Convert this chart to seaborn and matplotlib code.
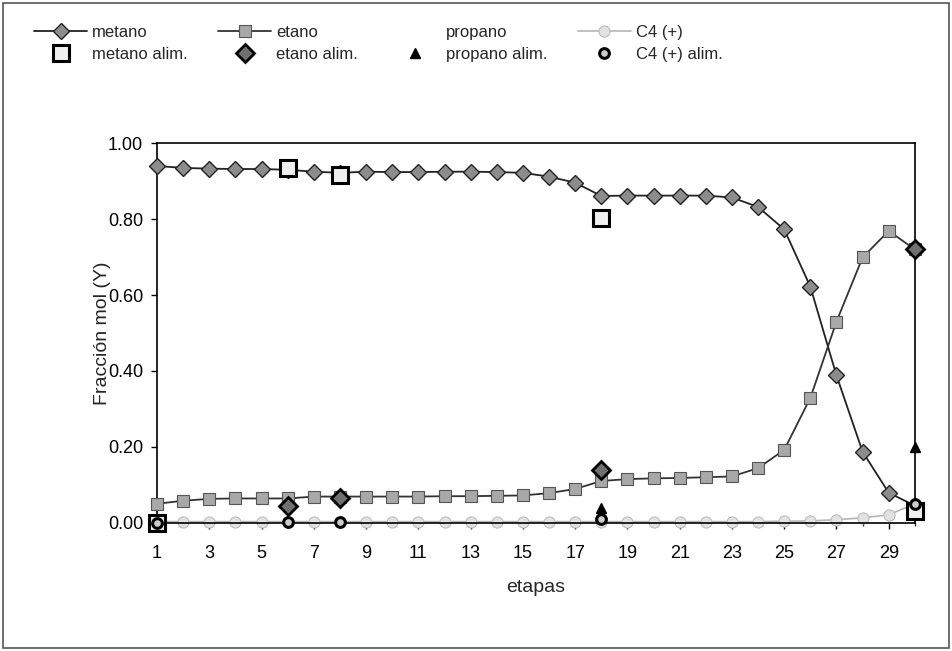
import matplotlib
matplotlib.use("Agg")
import matplotlib.pyplot as plt
import matplotlib.ticker as ticker
import seaborn as sns
from matplotlib.patches import Rectangle

sns.set_theme(style="white")
plt.rcParams['font.family'] = ['Liberation Sans', 'DejaVu Sans']

# --- datos ---
etapas = list(range(1, 31))
metano = [0.940, 0.935, 0.933, 0.932, 0.932, 0.930, 0.925, 0.922, 0.925, 0.924,
          0.924, 0.925, 0.925, 0.924, 0.922, 0.912, 0.896, 0.861, 0.862, 0.862,
          0.862, 0.862, 0.857, 0.832, 0.773, 0.622, 0.388, 0.187, 0.079, 0.045]
etano = [0.050, 0.058, 0.063, 0.064, 0.064, 0.064, 0.069, 0.069, 0.069, 0.069,
         0.069, 0.070, 0.070, 0.071, 0.072, 0.078, 0.089, 0.110, 0.115, 0.117,
         0.118, 0.120, 0.122, 0.144, 0.192, 0.329, 0.530, 0.699, 0.769, 0.720]
c4 = [0.003, 0.003, 0.003, 0.003, 0.003, 0.003, 0.003, 0.003, 0.003, 0.003,
      0.003, 0.003, 0.003, 0.003, 0.003, 0.003, 0.003, 0.003, 0.003, 0.003,
      0.003, 0.003, 0.003, 0.003, 0.004, 0.005, 0.008, 0.013, 0.021, 0.050]

metano_alim_x = [1, 6, 8, 18, 30]
metano_alim = [0.0, 0.935, 0.915, 0.804, 0.03]
etano_alim_x = [6, 8, 18, 30]
etano_alim = [0.045, 0.065, 0.14, 0.72]
propano_alim_x = [18, 30]
propano_alim = [0.04, 0.20]
c4_alim_x = [1, 6, 8, 18, 30]
c4_alim = [0.0, 0.003, 0.003, 0.01, 0.05]

fig = plt.figure(figsize=(9.52, 6.51), dpi=100)
ax = fig.add_axes([0.165, 0.197, 0.796, 0.583])

# curvas
sns.lineplot(x=etapas, y=metano, ax=ax, color='#222222', lw=1.3, marker='D',
             markersize=8, markerfacecolor='#8c8c8c', markeredgecolor='#222222',
             markeredgewidth=1.0, label='metano', zorder=3, clip_on=False)
sns.lineplot(x=etapas, y=etano, ax=ax, color='#333333', lw=1.3, marker='s',
             markersize=8, markerfacecolor='#a8a8a8', markeredgecolor='#555555',
             markeredgewidth=0.8, label='etano', zorder=3, clip_on=False)
ax.plot([], [], color='white', lw=1.3, label='propano')
sns.lineplot(x=etapas, y=c4, ax=ax, color='#b5b5b5', lw=1.2, marker='o',
             markersize=8, markerfacecolor='#e2e2e2', markeredgecolor='#bdbdbd',
             markeredgewidth=0.8, label='C4 (+)', zorder=2, clip_on=False)

# alimentaciones
ax.plot(metano_alim_x, metano_alim, ls='none', marker='s', markersize=11,
        markerfacecolor='#f0f0f0', markeredgecolor='black', markeredgewidth=2.2,
        label='metano alim.', zorder=5, clip_on=False)
ax.plot(etano_alim_x, etano_alim, ls='none', marker='D', markersize=9,
        markerfacecolor='#707070', markeredgecolor='black', markeredgewidth=2.0,
        label='etano alim.', zorder=6, clip_on=False)
ax.plot(propano_alim_x, propano_alim, ls='none', marker='^', markersize=7,
        markerfacecolor='black', markeredgecolor='black',
        label='propano alim.', zorder=6, clip_on=False)
ax.plot(c4_alim_x, c4_alim, ls='none', marker='o', markersize=7,
        markerfacecolor='#cccccc', markeredgecolor='black', markeredgewidth=2.2,
        label='C4 (+) alim.', zorder=7, clip_on=False)

ax.set_xlim(1, 30)
ax.set_ylim(0, 1)
ax.xaxis.set_major_locator(ticker.FixedLocator(list(range(1, 30, 2))))
ax.xaxis.set_minor_locator(ticker.MultipleLocator(1))
ax.yaxis.set_major_locator(ticker.MultipleLocator(0.2))
ax.yaxis.set_major_formatter(ticker.FormatStrFormatter('%.2f'))
ax.tick_params(axis='both', labelsize=13, colors='black', direction='out',
               length=4, width=1, left=True, bottom=True)
ax.tick_params(axis='x', pad=12)
ax.tick_params(axis='y', pad=6)
ax.tick_params(axis='x', which='minor', length=2, bottom=True)
for s in ax.spines.values():
    s.set_color('black')
    s.set_linewidth(1.2)

ax.set_xlabel('etapas', fontsize=14, labelpad=12)
ax.set_ylabel('Fracción mol (Y)', fontsize=14, labelpad=-2)

# leyenda en dos filas encima del gráfico
h, l = ax.get_legend_handles_labels()
if ax.get_legend() is not None:
    ax.get_legend().remove()
orden = ['metano', 'metano alim.', 'etano', 'etano alim.',
         'propano', 'propano alim.', 'C4 (+)', 'C4 (+) alim.']
hd = dict(zip(l, h))
fig.legend([hd[k] for k in orden], orden, ncol=4, loc='upper left',
           bbox_to_anchor=(0.02, 0.985), frameon=False, fontsize=12,
           columnspacing=1.8, handlelength=3.2, handletextpad=0.3,
           labelspacing=0.45)

fig.patches.append(Rectangle((0.003, 0.004), 0.994, 0.992, transform=fig.transFigure,
                             fill=False, edgecolor='#555555', lw=1.2))

fig.savefig('out.png', dpi=100, facecolor='white')
